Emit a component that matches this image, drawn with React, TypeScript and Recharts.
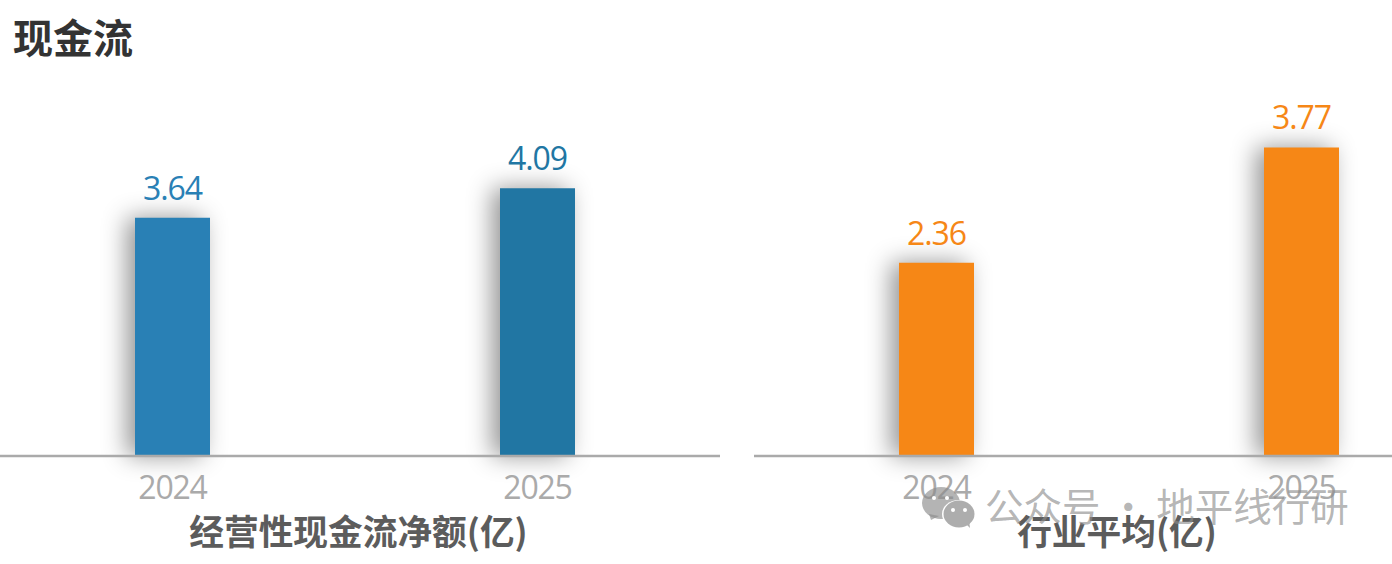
import { Bar, BarChart, Cell, LabelList, XAxis, YAxis } from "recharts";

const YEARS = ["2024", "2025"];
const NET_CASH_FLOW = [3.64, 4.09];
const INDUSTRY_AVG = [2.36, 3.77];
const NET_COLORS = ["#2980b5", "#2176a3"];
const AVG_COLORS = ["#f68716", "#f68716"];

const FONT = '"Open Sans", sans-serif';
const CJK = '"Noto Sans CJK SC", sans-serif';

function ValueBars({ values, colors, yMax, title, titleDx, left }: any) {
  const data = YEARS.map((year, i) => ({ year, value: values[i] }));

  const renderValue = (p: any) => (
    <text
      x={p.x + p.width / 2}
      y={p.y - 18}
      textAnchor="middle"
      fill={colors[p.index]}
      fontSize={32}
      fontFamily={FONT}
      letterSpacing={-1.1}
    >
      {Number(p.value).toFixed(2)}
    </text>
  );

  return (
    <div style={{ position: "absolute", left, top: 0 }}>
      <BarChart width={730} height={565} data={data} margin={{ top: 55, right: 0, bottom: 0, left: 0 }} barSize={75}>
        <YAxis hide domain={[0, yMax]} />
        <XAxis
          dataKey="year"
          height={109}
          axisLine={{ stroke: "#aaaaaa", strokeWidth: 2.5 }}
          tickLine={false}
          tickMargin={14}
          tick={{ fill: "#aaaaaa", fontSize: 32, fontFamily: FONT, letterSpacing: -1.2 }}
          label={{
            value: title,
            position: "insideBottom",
            offset: 20,
            dx: titleDx,
            fill: "#5c5c5c",
            fontSize: 34.7,
            fontWeight: 700,
            fontFamily: CJK,
          }}
        />
        <Bar
          dataKey="value"
          isAnimationActive={false}
          style={{ filter: "drop-shadow(-8px 0px 12px rgba(0,0,0,0.42))" }}
        >
          {data.map((_, i) => (
            <Cell key={i} fill={colors[i]} />
          ))}
          <LabelList dataKey="value" content={renderValue} />
        </Bar>
      </BarChart>
    </div>
  );
}

function Watermark() {
  return (
    <svg width={1392} height={564} style={{ position: "absolute", left: 0, top: 0, pointerEvents: "none" }}>
      <g fill="#8c8c8c" fillOpacity={0.65}>
        <ellipse cx={941} cy={503} rx={19} ry={16} />
        <path d="M929 514 L931 520 L939 516 Z" />
      </g>
      <ellipse cx={959} cy={514} rx={17} ry={14} fill="#ffffff" />
      <g fill="#adadad">
        <ellipse cx={959} cy={514} rx={15.5} ry={13.5} />
        <path d="M966 524 L970 528 L969 520 Z" />
      </g>
      <circle cx={953} cy={510} r={2} fill="#fff" />
      <circle cx={965} cy={510} r={2} fill="#fff" />
      <circle cx={934} cy={498} r={2} fill="#fff" />
      <circle cx={947} cy={498} r={2} fill="#fff" />
      <text x={985} y={521} fontFamily={CJK} fontSize={38.5} fill="#8c8c8c" fillOpacity={0.65}>
        公众号 · 地平线行研
      </text>
    </svg>
  );
}

export default function App() {
  return (
    <div style={{ position: "absolute", left: 0, top: 0, width: 1392, height: 564, overflow: "hidden", background: "#fff" }}>
      <ValueBars values={NET_CASH_FLOW} colors={NET_COLORS} yMax={6.125} title="经营性现金流净额(亿)" titleDx={3.5} left={-10} />
      <ValueBars values={INDUSTRY_AVG} colors={AVG_COLORS} yMax={4.9} title="行业平均(亿)" titleDx={-2} left={754} />
      <div style={{ position: "absolute", left: 13, top: 8, fontFamily: CJK, fontWeight: 700, fontSize: 40, lineHeight: "56px", color: "#333333" }}>
        现金流
      </div>
      <Watermark />
    </div>
  );
}
